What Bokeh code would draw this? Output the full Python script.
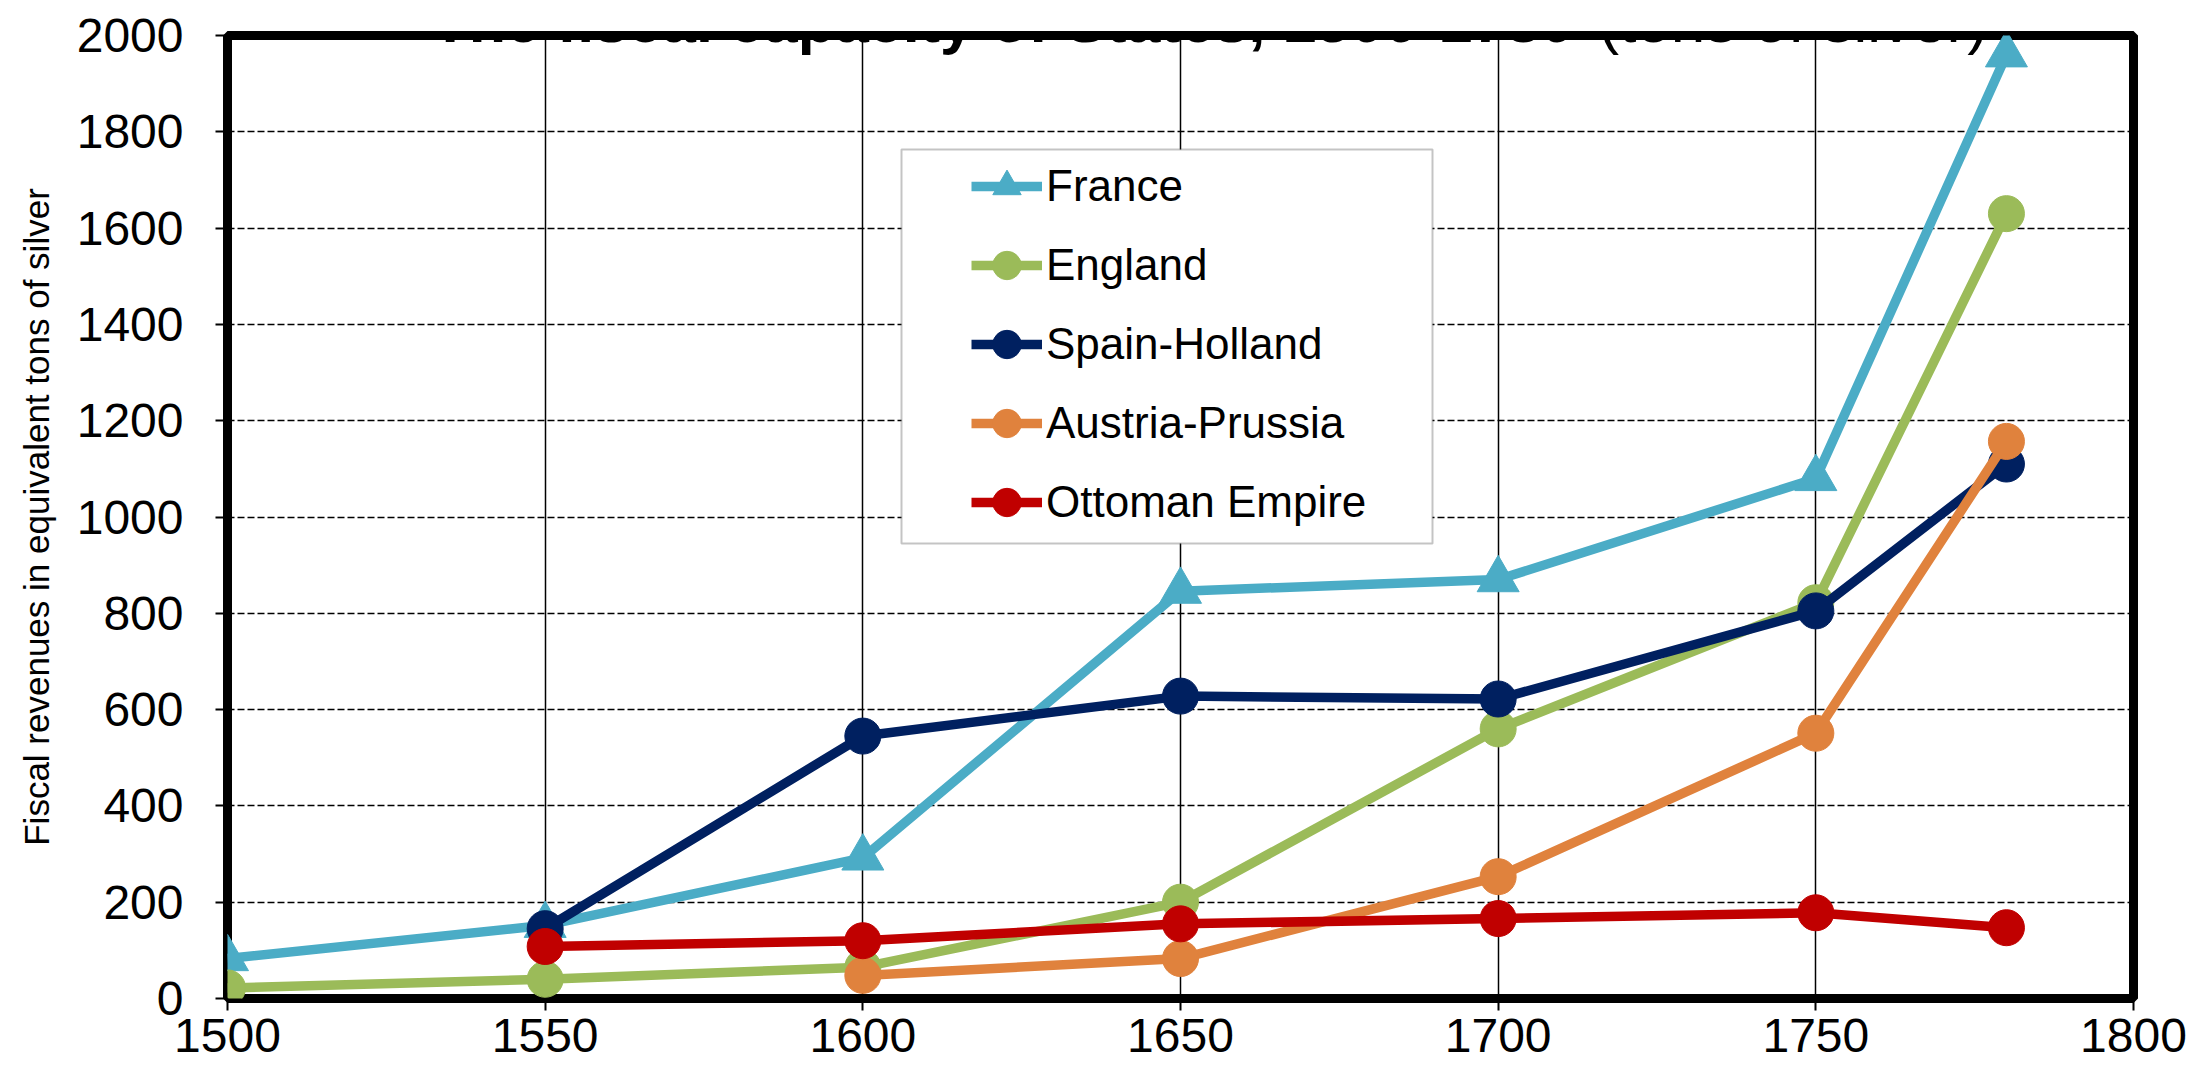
from bokeh.plotting import figure
from bokeh.models import (ColumnDataSource, FixedTicker, Legend, LegendItem,
                          Label, BoxAnnotation, Range1d)
from bokeh.embed import file_html
from bokeh.resources import INLINE

# ---- data ----
years = [1500, 1550, 1600, 1650, 1700, 1750, 1780]
france = [83, 152, 292, 846, 870, 1080, 1960]
england = [22, 40, 65, 200, 560, 822, 1630]
spain_years = [1550, 1600, 1650, 1700, 1750, 1780]
spain_holland = [145, 545, 628, 622, 805, 1110]
austria_years = [1600, 1650, 1700, 1750, 1780]
austria_prussia = [48, 83, 253, 551, 1157]
ottoman_years = [1550, 1600, 1650, 1700, 1750, 1780]
ottoman = [108, 120, 155, 166, 178, 147]

x_ticks = [1500, 1550, 1600, 1650, 1700, 1750, 1800]
y_ticks = [0, 200, 400, 600, 800, 1000, 1200, 1400, 1600, 1800, 2000]

title_main = "The fiscal capacity of States, 1500-1780"
title_unit = "(tons of silver)"
y_label = "Fiscal revenues in equivalent tons of silver"

series = [
    ("France", years, france, "#4BACC6", "triangle", 42),
    ("England", years, england, "#9BBB59", "circle", 36),
    ("Spain-Holland", spain_years, spain_holland, "#002060", "circle", 36),
    ("Austria-Prussia", austria_years, austria_prussia, "#E0823D", "circle", 36),
    ("Ottoman Empire", ottoman_years, ottoman, "#C00000", "circle", 36),
]

FONT = "Liberation Sans"

p = figure(width=2187, height=1062,
           x_range=Range1d(1500, 1800), y_range=Range1d(0, 2000),
           output_backend="svg", toolbar_location=None,
           min_border_left=227, min_border_right=54,
           min_border_top=35, min_border_bottom=64)
p.title.text = ""
p.background_fill_color = "white"
p.border_fill_color = "white"
p.outline_line_color = "black"
p.outline_line_width = 9

# grid
p.xgrid.ticker = FixedTicker(ticks=x_ticks)
p.ygrid.ticker = FixedTicker(ticks=y_ticks)
p.xgrid.grid_line_color = "black"
p.xgrid.grid_line_width = 1.5
p.ygrid.grid_line_color = "black"
p.ygrid.grid_line_width = 1.5
p.ygrid.grid_line_dash = "7 3"

# axes
for ax in (p.xaxis[0], p.yaxis[0]):
    ax.axis_line_color = None
    ax.major_tick_line_color = "black"
    ax.major_tick_line_width = 2
    ax.major_tick_in = 0
    ax.major_tick_out = 12
    ax.minor_tick_line_color = None
    ax.major_label_text_font = FONT
    ax.major_label_text_font_size = "48px"
    ax.major_label_text_color = "black"

p.xaxis.ticker = FixedTicker(ticks=x_ticks)
p.yaxis.ticker = FixedTicker(ticks=y_ticks)
p.xaxis.major_label_standoff = 8
p.yaxis.major_label_standoff = 32
p.yaxis.axis_label = y_label
p.yaxis.axis_label_text_font = FONT
p.yaxis.axis_label_text_font_size = "35px"
p.yaxis.axis_label_text_font_style = "normal"
p.yaxis.axis_label_text_color = "black"
p.yaxis.axis_label_standoff = 18

# series
items = []
for name, xs, ys, color, marker, size in series:
    src = ColumnDataSource(dict(x=xs, y=ys))
    lr = p.line("x", "y", source=src, line_color=color, line_width=9.5,
                line_join="round")
    sr = p.scatter("x", "y", source=src, marker=marker, size=size,
                   fill_color=color, line_color=color)
    items.append(LegendItem(label=name, renderers=[lr, sr]))

# legend frame
box = BoxAnnotation(left=674, right=1205, top=849, bottom=455,
                    left_units="screen", right_units="screen",
                    top_units="screen", bottom_units="screen",
                    fill_color="white", fill_alpha=1.0,
                    line_color="#3a3a3a", line_width=2, level="annotation")
p.add_layout(box)

legend = Legend(items=items, location=(744, 460), padding=0, margin=0,
                border_line_color=None, background_fill_alpha=0,
                glyph_width=71, glyph_height=72, label_height=72,
                spacing=7, label_standoff=4,
                label_text_font=FONT, label_text_font_size="44px",
                label_text_color="black")
p.add_layout(legend)

# title (cut off at the top, as in the reference)
t1 = Label(x=204, y=2000, x_units="screen", y_units="data", y_offset=15,
           text=title_main, text_font=FONT, text_font_size="61px",
           text_font_style="bold", text_align="left",
           text_baseline="alphabetic", text_color="black")
t2 = Label(x=1371, y=2000, x_units="screen", y_units="data", y_offset=15,
           text=title_unit, text_font=FONT, text_font_size="62px",
           text_font_style="normal", text_align="left",
           text_baseline="alphabetic", text_color="black")
p.add_layout(t1)
p.add_layout(t2)

open("out.html", "w").write(file_html(p, INLINE))
